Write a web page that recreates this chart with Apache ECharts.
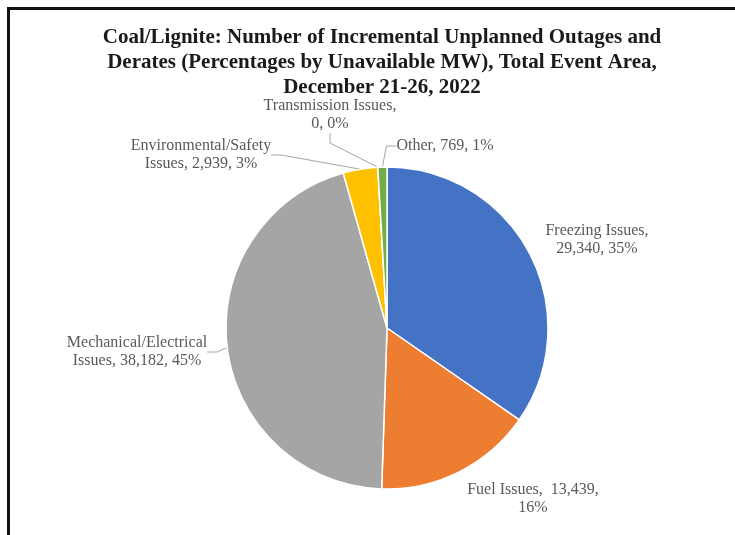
<!DOCTYPE html>
<html>
<head>
<meta charset="utf-8">
<script src="https://cdn.jsdelivr.net/npm/echarts@6/dist/echarts.min.js"></script>
<style>html,body{margin:0;padding:0;background:#fff;}#c{width:735px;height:535px;}</style>
</head>
<body>
<div id="c"></div>
<script>
const categories = ['Freezing Issues', 'Fuel Issues', 'Mechanical/Electrical Issues', 'Environmental/Safety Issues', 'Transmission Issues', 'Other'];
const values = [29340, 13439, 38182, 2939, 0, 769];
const colors = ['#4472C4', '#ED7D31', '#A5A5A5', '#FFC000', '#5B9BD5', '#70AD47'];
const labelTexts = [
  function (v, p) { return 'Freezing Issues,\n' + v + ', ' + p + '%'; },
  function (v, p) { return 'Fuel Issues,  ' + v + ',\n' + p + '%'; },
  function (v, p) { return 'Mechanical/Electrical\nIssues, ' + v + ', ' + p + '%'; },
  function (v, p) { return 'Environmental/Safety\nIssues, ' + v + ', ' + p + '%'; },
  function (v, p) { return 'Transmission Issues,\n' + v + ', ' + p + '%'; },
  function (v, p) { return 'Other, ' + v + ', ' + p + '%'; }
];
const labelPos = [[597, 240], [533, 499], [137, 352], [201, 155], [330, 115], [445, 146]];
const showLine = [false, false, true, true, true, true];

const chart = echarts.init(document.getElementById('c'));
const serif = '"Liberation Serif", "Times New Roman", serif';
chart.setOption({
  animation: false,
  backgroundColor: '#fff',
  title: {
    text: 'Coal/Lignite: Number of Incremental Unplanned Outages and\nDerates (Percentages by Unavailable MW), Total Event Area,\nDecember 21-26, 2022',
    left: 377,
    textAlign: 'center',
    top: 20,
    textStyle: { fontFamily: serif, fontWeight: 'bold', fontSize: 21, lineHeight: 25, color: '#1a1a1a' }
  },
  graphic: [
    { type: 'rect', shape: { x: 7, y: 7, width: 728, height: 3 }, style: { fill: '#111' }, silent: true },
    { type: 'rect', shape: { x: 7, y: 7, width: 3, height: 528 }, style: { fill: '#111' }, silent: true }
  ],
  series: [{
    type: 'pie',
    center: [387, 328],
    radius: [0, 161],
    startAngle: 90,
    clockwise: true,
    minAngle: 0,
    stillShowZeroSum: true,
    avoidLabelOverlap: false,
    itemStyle: { borderColor: '#fff', borderWidth: 1.5 },
    label: {
      show: true,
      position: 'outside',
      fontFamily: serif,
      fontSize: 16,
      lineHeight: 18,
      color: '#595959',
      align: 'center',
      formatter: function (p) {
        return labelTexts[p.dataIndex](p.value.toLocaleString('en-US'), Math.round(p.percent));
      }
    },
    labelLine: { show: true, length: 10, length2: 10, lineStyle: { color: '#A6A6A6', width: 1 } },
    labelLayout: function (params) {
      const pos = labelPos[params.dataIndex];
      return { x: pos[0], y: pos[1], align: 'center', verticalAlign: 'middle' };
    },
    data: categories.map(function (c, i) {
      return { name: c, value: values[i], itemStyle: { color: colors[i] }, labelLine: { show: showLine[i] } };
    })
  }]
});
</script>
</body>
</html>
